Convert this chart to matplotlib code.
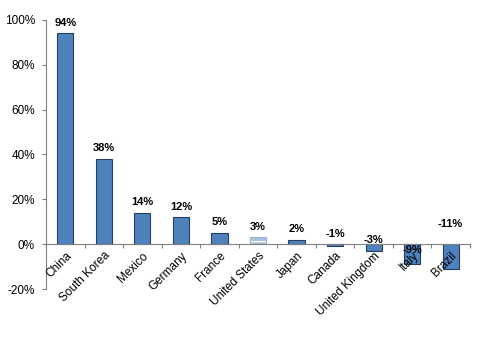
import numpy as np
import matplotlib.pyplot as plt

plt.rcParams['font.family'] = ['Liberation Sans', 'DejaVu Sans']

countries = ['China', 'South Korea', 'Mexico', 'Germany', 'France', 'United States',
             'Japan', 'Canada', 'United Kingdom', 'Italy', 'Brazil']
growth = [94, 38, 14, 12, 5, 3, 2, -1, -3, -9, -11]
labels = ['94%', '38%', '14%', '12%', '5%', '3%', '2%', '-1%', '-3%', '-9%', '-11%']
# where Excel left the labels for the negative bars (data units)
neg_label_y = {'Canada': 4.5, 'United Kingdom': 1.8, 'Italy': -2.7, 'Brazil': 9.0}

fig = plt.figure(figsize=(4.8, 3.37), dpi=100)
ax = fig.add_axes([0.096, 0.1424, 0.883, 0.7983])

x = np.arange(len(countries))
for i, c in enumerate(countries):
    if c == 'United States':
        # light blue with white stripes
        ax.bar(x[i], growth[i], width=0.42, color='#A7C0DE', edgecolor='white',
               hatch='---', linewidth=0, zorder=3)
        ax.bar(x[i], growth[i], width=0.42, fill=False, edgecolor='#95B3D7',
               linewidth=0.8, zorder=4)
    else:
        ax.bar(x[i], growth[i], width=0.42, color='#4F81BD', edgecolor='#243F60',
               linewidth=0.8, zorder=3)

for i, c in enumerate(countries):
    if growth[i] >= 0:
        ax.annotate(labels[i], (x[i], growth[i]), xytext=(0, 4), textcoords='offset points',
                    ha='center', va='bottom', fontsize=8, fontweight='bold', zorder=6)
    else:
        ax.text(x[i], neg_label_y[c], labels[i], ha='center', va='center',
                fontsize=8, fontweight='bold', zorder=6)

ax.set_xlim(-0.5, len(countries) - 0.5)
ax.set_ylim(-20, 100)
ax.set_yticks(np.arange(-20, 101, 20))
ax.set_yticklabels([f'{v}%' for v in range(-20, 101, 20)], fontsize=8.5)

ax.spines['top'].set_visible(False)
ax.spines['right'].set_visible(False)
ax.spines['bottom'].set_position(('data', 0))
ax.spines['left'].set_color('#808080')
ax.spines['bottom'].set_color('#808080')
ax.spines['bottom'].set_zorder(5)
ax.tick_params(axis='y', direction='out', length=3, color='#808080', pad=5)

ax.set_xticks(np.arange(len(countries) + 1) - 0.5, minor=False)
ax.set_xticklabels([])
ax.tick_params(axis='x', direction='out', length=3, color='#808080')
ax.set_xticks(x, minor=True)
ax.set_xticklabels(countries, minor=True, rotation=45, ha='right', va='top',
                   rotation_mode='anchor', fontsize=8.5)
ax.tick_params(axis='x', which='minor', length=0, pad=4)
ax.xaxis.set_zorder(5)

fig.savefig('out.png', dpi=100)
